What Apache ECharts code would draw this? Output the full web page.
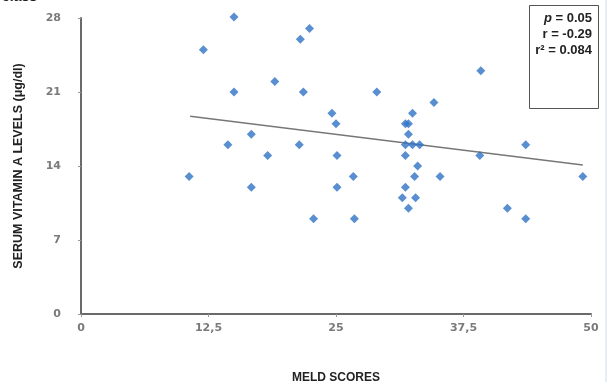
<!DOCTYPE html>
<html><head><meta charset="utf-8">
<script src="https://cdn.jsdelivr.net/npm/echarts@6/dist/echarts.min.js"></script>
<style>html,body{margin:0;padding:0;background:#fff}#c{width:612px;height:382px}</style>
</head><body><div id="c"></div>
<script>
const meldScores = [10.6,12.0,15.0,14.4,15.0,16.7,16.7,18.3,19.0,21.4,21.5,21.8,22.4,22.8,24.6,25.0,25.1,25.1,26.7,26.8,29.0,
  39.2,34.6,32.5,31.8,32.1,32.1,31.8,32.5,33.2,31.8,33.0,32.7,35.2,31.8,31.5,32.8,32.1,39.1,43.6,41.8,43.6,49.2];
const vitaminA = [13,25,28.1,16,21,17,12,15,22,16,26,21,27,9,19,18,15,12,13,9,21,
  23,20,19,18,18,17,16,16,16,15,14,13,13,12,11,11,10,15,16,10,9,13];
const trendX = [10.7, 49.2];
const trendY = [18.7, 14.1];
const xTicks = [0, 12.5, 25, 37.5, 50];
const yTicks = [0, 7, 14, 21, 28];
const statsLines = ['p = 0.05', 'r = -0.29', 'r² = 0.084'];

const chart = echarts.init(document.getElementById('c'), null, {renderer:'canvas'});
const axisLabelStyle = {color:'#7a7a7a', fontFamily:'DejaVu Sans', fontWeight:'bold', fontSize:11};
chart.setOption({
  animation:false,
  grid:{left:81, right:21, top:18, bottom:68, outerBoundsMode:'none', containLabel:false},
  xAxis:{type:'value', min:xTicks[0], max:xTicks[xTicks.length-1], interval:12.5,
    axisLine:{show:true, lineStyle:{color:'#6a6a6a', width:2}},
    axisTick:{show:true, length:3, lineStyle:{color:'#999'}},
    splitLine:{show:false},
    axisLabel:Object.assign({margin:9, formatter:v=>String(v).replace('.',',')}, axisLabelStyle),
    name:'MELD SCORES', nameLocation:'middle', nameGap:58,
    nameTextStyle:{fontFamily:'Liberation Sans', fontWeight:'bold', fontSize:12, color:'#222'}
  },
  yAxis:{type:'value', min:yTicks[0], max:yTicks[yTicks.length-1], interval:7,
    axisLine:{show:true, lineStyle:{color:'#6a6a6a', width:2}},
    axisTick:{show:true, length:3, lineStyle:{color:'#999'}},
    splitLine:{show:false},
    axisLabel:Object.assign({margin:20}, axisLabelStyle),
    name:'SERUM VITAMIN A LEVELS (μg/dl)', nameLocation:'middle', nameGap:56, nameRotate:90,
    nameTextStyle:{fontFamily:'Liberation Sans', fontWeight:'bold', fontSize:12.5, color:'#222'}
  },
  series:[
    {type:'line', data:trendX.map((x,i)=>[x,trendY[i]]), symbol:'none',
      lineStyle:{color:'#777', width:1.5}, z:1},
    {type:'scatter', data:meldScores.map((x,i)=>[x,vitaminA[i]]), symbol:'diamond', symbolSize:[9,9],
      clip:false, itemStyle:{color:'#2f73c5'}, z:2}
  ],
  graphic:[
    {type:'rect', left:529, top:5, shape:{width:69, height:103}, style:{fill:'#fff', stroke:'#555', lineWidth:1}, z:10},
    {type:'text', x:592, y:12, z:11, style:{text:'{i|p} = 0.05', align:'right', font:'bold 13px Liberation Sans', fill:'#222',
      rich:{i:{fontStyle:'italic', fontWeight:'bold', fontSize:13, fontFamily:'Liberation Sans', fill:'#222'}}}},
    {type:'text', x:592, y:28, z:11, style:{text:statsLines[1], align:'right', font:'bold 13px Liberation Sans', fill:'#222'}},
    {type:'text', x:592, y:44, z:11, style:{text:statsLines[2], align:'right', font:'bold 13px Liberation Sans', fill:'#222'}},
    {type:'text', x:2, y:-10, style:{text:'class', font:'bold 14px Liberation Sans', fill:'#222'}},
    {type:'line', shape:{x1:606, y1:0, x2:606, y2:382}, style:{stroke:'#c9dce9', lineWidth:1}}
  ]
});
</script></body></html>
